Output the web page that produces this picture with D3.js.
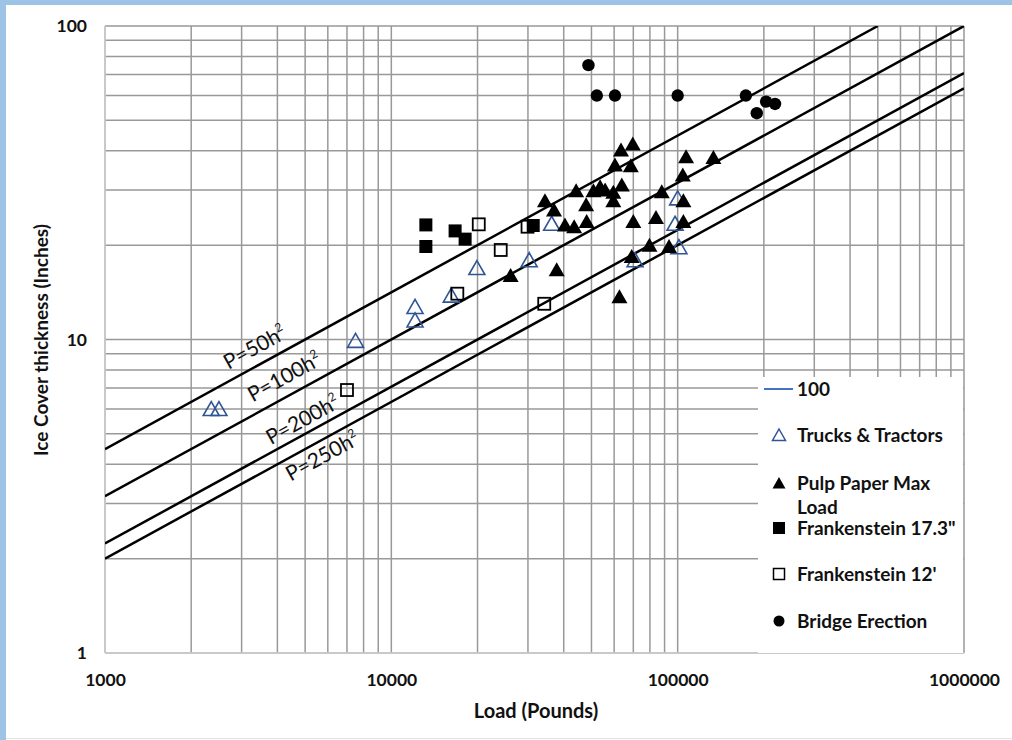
<!DOCTYPE html>
<html lang="en">
<head>
    <meta charset="UTF-8">
    <title>Ice cover thickness vs load</title>
    <script src="https://cdn.jsdelivr.net/npm/d3@7"></script>
    <style>
        body { margin: 0; background: #fff; }
        text { font-family: Lato, "Open Sans", sans-serif; }
    </style>
</head>
<body>
<script>
    // Data (load in pounds, ice thickness in inches)
    var trucksLoad = [2350, 2500, 7500, 12100, 12100, 16200, 19900, 30300, 36300, 100000, 97900, 101000, 71000];
    var trucksIce  = [6.0, 6.0, 9.9, 12.7, 11.5, 13.8, 16.9, 17.9, 23.4, 28.2, 23.4, 19.7, 17.9];

    var pulpLoad = [34400, 37000, 44200, 47900, 50800, 53600, 55800, 59600, 40400, 43500, 48100, 26100, 37800,
                    63400, 69700, 60400, 68600, 107000, 133300, 104200, 88000, 63800, 59600, 104700, 70000,
                    84000, 104700, 79700, 93300, 69100, 62600];
    var pulpIce  = [27.7, 25.9, 29.8, 26.9, 29.8, 30.7, 30.0, 29.5, 23.2, 22.9, 23.8, 16.0, 16.7,
                    40.2, 42.0, 36.0, 35.8, 38.3, 38.1, 33.5, 29.6, 31.1, 27.7, 27.7, 23.8,
                    24.5, 23.8, 20.0, 19.8, 18.4, 13.7];

    var frank17Load = [13200, 13200, 16700, 18100, 31300];
    var frank17Ice  = [23.2, 19.8, 22.2, 20.9, 23.1];

    var frank12Load = [20200, 17000, 7000, 24100, 29900, 34200];
    var frank12Ice  = [23.3, 14.0, 6.9, 19.3, 22.9, 13.0];

    var bridgeLoad = [48800, 52200, 60400, 100000, 173000, 203600, 218800, 188900];
    var bridgeIce  = [75, 60, 60, 60, 60, 57.4, 56.4, 52.7];

    // P = k h^2 reference lines
    var lineCoeffs = [50, 100, 200, 250];
    var lineLabels = ["P=50h", "P=100h", "P=200h", "P=250h"];

    var xTickValues = [1000, 10000, 100000, 1000000];
    var yTickValues = [1, 10, 100];

    var legendNames = ["100", "Trucks & Tractors", "Pulp Paper Max|Load", "Frankenstein 17.3\"", "Frankenstein 12'", "Bridge Erection"];
    var legendKinds = ["line", "openTri", "tri", "square", "openSquare", "circle"];

    //Figure size and plot area
    var w = 1012, h = 740;
    var pLeft = 105, pRight = 964, pTop = 26, pBottom = 653;

    var svg = d3.select("body").append("svg")
        .attr("width", w)
        .attr("height", h);

    // light blue frame of the original picture
    svg.append("rect").attr("x", 0).attr("y", 0).attr("width", w).attr("height", 5).attr("fill", "#9dc3e6");
    svg.append("rect").attr("x", 0).attr("y", 0).attr("width", 6).attr("height", h).attr("fill", "#9dc3e6");
    svg.append("line").attr("x1", 6).attr("x2", w).attr("y1", 738.5).attr("y2", 738.5)
        .attr("stroke", "#e4e4e4").attr("stroke-width", 1);

    var x = d3.scaleLog().domain([1000, 1000000]).range([pLeft, pRight]);
    var y = d3.scaleLog().domain([1, 100]).range([pBottom, pTop]);

    //Grid lines (major and minor, all the same grey)
    svg.append("g").selectAll("line.vgrid")
        .data(x.ticks())
        .enter()
        .append("line")
        .attr("class", "vgrid")
        .attr("x1", function(d) { return x(d) })
        .attr("x2", function(d) { return x(d) })
        .attr("y1", pTop)
        .attr("y2", pBottom)
        .attr("stroke", "#999")
        .attr("stroke-width", 1.5);

    svg.append("g").selectAll("line.hgrid")
        .data(y.ticks())
        .enter()
        .append("line")
        .attr("class", "hgrid")
        .attr("x1", pLeft)
        .attr("x2", pRight)
        .attr("y1", function(d) { return y(d) })
        .attr("y2", function(d) { return y(d) })
        .attr("stroke", "#999")
        .attr("stroke-width", 1.5);

    // axis lines on left and bottom are lighter
    svg.append("line").attr("x1", pLeft).attr("x2", pLeft).attr("y1", pTop).attr("y2", pBottom)
        .attr("stroke", "#d0d0d0").attr("stroke-width", 1.5);
    svg.append("line").attr("x1", pLeft).attr("x2", pRight).attr("y1", pBottom).attr("y2", pBottom)
        .attr("stroke", "#d0d0d0").attr("stroke-width", 1.5);

    svg.append("clipPath").attr("id", "plotclip")
        .append("rect").attr("x", pLeft).attr("y", pTop).attr("width", pRight - pLeft).attr("height", pBottom - pTop);

    //Reference lines P = k h^2  ->  h = sqrt(P / k)
    var refLine = d3.line()
        .x(function(d) { return x(d[0]) })
        .y(function(d) { return y(d[1]) });

    svg.append("g").attr("clip-path", "url(#plotclip)")
        .selectAll("path.ref")
        .data(lineCoeffs)
        .enter()
        .append("path")
        .attr("class", "ref")
        .attr("d", function(k) {
            var pEnd = Math.min(1000000, k * 100 * 100);
            return refLine([[1000, Math.sqrt(1000 / k)], [pEnd, Math.sqrt(pEnd / k)]]);
        })
        .attr("fill", "none")
        .attr("stroke", "#000")
        .attr("stroke-width", 2.5);

    //Marker shapes
    var triPath = "M0,-7.5L8,6.5L-8,6.5Z";
    function pts(xs, ys) { return xs.map(function(v, i) { return [v, ys[i]] }) }

    var marks = svg.append("g");

    marks.selectAll("path.truck")
        .data(pts(trucksLoad, trucksIce))
        .enter()
        .append("path")
        .attr("class", "truck")
        .attr("d", triPath)
        .attr("transform", function(d) { return "translate(" + x(d[0]) + "," + y(d[1]) + ")" })
        .attr("fill", "none")
        .attr("stroke", "#2f5597")
        .attr("stroke-width", 1.6);

    marks.selectAll("path.pulp")
        .data(pts(pulpLoad, pulpIce))
        .enter()
        .append("path")
        .attr("class", "pulp")
        .attr("d", triPath)
        .attr("transform", function(d) { return "translate(" + x(d[0]) + "," + y(d[1]) + ")" })
        .attr("fill", "#000");

    marks.selectAll("rect.f17")
        .data(pts(frank17Load, frank17Ice))
        .enter()
        .append("rect")
        .attr("class", "f17")
        .attr("x", function(d) { return x(d[0]) - 6.5 })
        .attr("y", function(d) { return y(d[1]) - 6.5 })
        .attr("width", 13)
        .attr("height", 13)
        .attr("fill", "#000");

    marks.selectAll("rect.f12")
        .data(pts(frank12Load, frank12Ice))
        .enter()
        .append("rect")
        .attr("class", "f12")
        .attr("x", function(d) { return x(d[0]) - 6 })
        .attr("y", function(d) { return y(d[1]) - 6 })
        .attr("width", 12)
        .attr("height", 12)
        .attr("fill", "none")
        .attr("stroke", "#000")
        .attr("stroke-width", 1.8);

    marks.selectAll("circle.bridge")
        .data(pts(bridgeLoad, bridgeIce))
        .enter()
        .append("circle")
        .attr("class", "bridge")
        .attr("cx", function(d) { return x(d[0]) })
        .attr("cy", function(d) { return y(d[1]) })
        .attr("r", 6.2)
        .attr("fill", "#000");

    //Labels on the reference lines (placed by hand like the text boxes of the original)
    var labelLoad = [2700, 3280, 3800, 4450];
    var labelIce  = [8.0, 6.3, 4.6, 3.52];
    var angle = -Math.atan((y(1) - y(10)) / 2 / (x(10000) - x(1000))) * 180 / Math.PI;

    lineLabels.forEach(function(t, i) {
        var lx = x(labelLoad[i]), ly = y(labelIce[i]);
        var txt = svg.append("text")
            .attr("transform", "translate(" + lx + "," + ly + ") rotate(" + angle + ")")
            .attr("font-size", 21)
            .attr("fill", "#111");
        txt.append("tspan").text(t);
        txt.append("tspan").attr("dy", -9).attr("font-size", 12).text("2");
    });

    //Legend box covering the lower right of the plot
    var lg = svg.append("g");
    lg.append("rect")
        .attr("x", 758).attr("y", 377)
        .attr("width", 205).attr("height", 276)
        .attr("fill", "#fff");

    var legendY = [389, 435, 483, 528, 574, 621];
    var mx = 779, tx = 797;
    legendKinds.forEach(function(k, i) {
        var cy = legendY[i];
        if (k == "line") {
            lg.append("line").attr("x1", 764).attr("x2", 793).attr("y1", cy).attr("y2", cy)
                .attr("stroke", "#4472c4").attr("stroke-width", 2);
        } else if (k == "openTri") {
            lg.append("path").attr("d", "M0,-6L6.5,5.5L-6.5,5.5Z").attr("transform", "translate(" + mx + "," + cy + ")")
                .attr("fill", "none").attr("stroke", "#2f5597").attr("stroke-width", 1.5);
        } else if (k == "tri") {
            lg.append("path").attr("d", "M0,-6L6.5,5.5L-6.5,5.5Z").attr("transform", "translate(" + mx + "," + cy + ")")
                .attr("fill", "#000");
        } else if (k == "square") {
            lg.append("rect").attr("x", mx - 6).attr("y", cy - 6).attr("width", 12).attr("height", 12).attr("fill", "#000");
        } else if (k == "openSquare") {
            lg.append("rect").attr("x", mx - 5.5).attr("y", cy - 5.5).attr("width", 11).attr("height", 11)
                .attr("fill", "none").attr("stroke", "#000").attr("stroke-width", 1.5);
        } else {
            lg.append("circle").attr("cx", mx).attr("cy", cy).attr("r", 5.5).attr("fill", "#000");
        }
        var parts = legendNames[i].split("|");
        parts.forEach(function(p, j) {
            lg.append("text")
                .attr("x", tx)
                .attr("y", cy + j * 24)
                .attr("dy", "0.36em")
                .attr("font-size", 19)
                .attr("font-weight", 700)
                .attr("fill", "#111")
                .text(p);
        });
    });

    //Tick labels
    var xAxis = svg.append("g")
        .attr("transform", "translate(0," + 680 + ")")
        .call(d3.axisBottom(x).tickValues(xTickValues).tickSize(0).tickFormat(d3.format("d")));
    xAxis.select(".domain").remove();
    xAxis.selectAll("text")
        .attr("y", 0)
        .attr("dy", "0.36em")
        .attr("font-family", "Lato, sans-serif")
        .attr("font-size", 17.5)
        .attr("font-weight", 700)
        .attr("fill", "#111");

    var yAxis = svg.append("g")
        .attr("transform", "translate(" + 87 + ",0)")
        .call(d3.axisLeft(y).tickValues(yTickValues).tickSize(0).tickFormat(d3.format("d")));
    yAxis.select(".domain").remove();
    yAxis.selectAll("text")
        .attr("x", 0)
        .attr("font-family", "Lato, sans-serif")
        .attr("font-size", 17.5)
        .attr("font-weight", 700)
        .attr("fill", "#111");

    //Axis titles
    svg.append("text")
        .attr("x", 536).attr("y", 711)
        .attr("dy", "0.36em")
        .attr("text-anchor", "middle")
        .attr("font-size", 20)
        .attr("font-weight", 700)
        .attr("fill", "#111")
        .text("Load (Pounds)");

    svg.append("text")
        .attr("transform", "translate(41,340) rotate(-90)")
        .attr("dy", "0.36em")
        .attr("text-anchor", "middle")
        .attr("font-size", 19)
        .attr("font-weight", 700)
        .attr("fill", "#111")
        .text("Ice Cover thickness (Inches)");
</script>
</body>
</html>
